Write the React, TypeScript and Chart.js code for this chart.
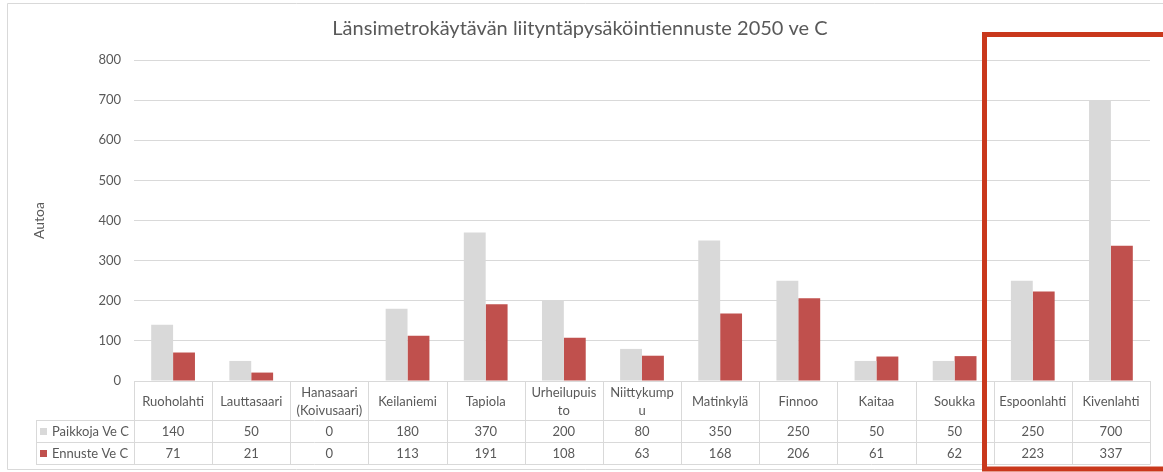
import React, { useEffect, useRef } from "react";
import { Chart, registerables } from "chart.js";

Chart.register(...registerables);

const TITLE = "Länsimetrokäytävän liityntäpysäköintiennuste 2050 ve C";
const Y_LABEL = "Autoa";
const CATEGORIES: string[][] = [
  ["Ruoholahti"],
  ["Lauttasaari"],
  ["Hanasaari", "(Koivusaari)"],
  ["Keilaniemi"],
  ["Tapiola"],
  ["Urheilupuis", "to"],
  ["Niittykump", "u"],
  ["Matinkylä"],
  ["Finnoo"],
  ["Kaitaa"],
  ["Soukka"],
  ["Espoonlahti"],
  ["Kivenlahti"],
];
const SERIES_NAMES = ["Paikkoja Ve C", "Ennuste Ve C"];
const PAIKKOJA = [140, 50, 0, 180, 370, 200, 80, 350, 250, 50, 50, 250, 700];
const ENNUSTE = [71, 21, 0, 113, 191, 108, 63, 168, 206, 61, 62, 223, 337];
const Y_MIN = 0;
const Y_MAX = 800;
const Y_STEP = 100;

const GRAY = "#D9D9D9";
const RED = "#C0504D";
const TEXT = "#595959";
const FONT = "Lato, 'Open Sans', sans-serif";

const W = 1163;
const H = 472;

export default function App() {
  const ref = useRef<HTMLCanvasElement | null>(null);

  useEffect(() => {
    document.body.style.margin = "0";
    const canvas = ref.current;
    if (!canvas) return;

    const decor = {
      id: "decor",
      afterDraw(chart: any) {
        const ctx = chart.ctx as CanvasRenderingContext2D;
        const area = chart.chartArea;
        const xs = chart.scales.x;
        const n = CATEGORIES.length;
        const colW = (area.right - area.left) / n;
        const top = area.bottom;
        const headBottom = top + 39;
        const row1Bottom = headBottom + 22;
        const row2Bottom = row1Bottom + 22;
        const legendLeft = 36;

        ctx.save();
        // outer chart border
        ctx.strokeStyle = GRAY;
        ctx.lineWidth = 1;
        ctx.beginPath();
        ctx.moveTo(W + 5, 3.5);
        ctx.lineTo(7.5, 3.5);
        ctx.lineTo(7.5, 469.5);
        ctx.lineTo(W + 5, 469.5);
        ctx.stroke();

        // title
        ctx.fillStyle = TEXT;
        ctx.font = `20px ${FONT}`;
        ctx.textAlign = "center";
        ctx.textBaseline = "middle";
        ctx.fillText(TITLE, 580, 29);

        // y label
        ctx.save();
        ctx.translate(39, (area.top + area.bottom) / 2);
        ctx.rotate(-Math.PI / 2);
        ctx.font = `14px ${FONT}`;
        ctx.fillText(Y_LABEL, 0, 0);
        ctx.restore();

        // table lines
        ctx.strokeStyle = GRAY;
        ctx.lineWidth = 1;
        ctx.beginPath();
        const hl = (x1: number, x2: number, y: number) => {
          ctx.moveTo(x1, Math.round(y) + 0.5);
          ctx.lineTo(x2, Math.round(y) + 0.5);
        };
        const vl = (x: number, y1: number, y2: number) => {
          ctx.moveTo(Math.round(x) + 0.5, y1);
          ctx.lineTo(Math.round(x) + 0.5, y2);
        };
        hl(area.left, area.right, top);
        hl(legendLeft, area.right, headBottom);
        hl(legendLeft, area.right, row1Bottom);
        hl(legendLeft, area.right, row2Bottom);
        for (let i = 0; i <= n; i++) {
          vl(area.left + i * colW, top, row2Bottom + 0.5);
        }
        vl(legendLeft, headBottom, row2Bottom + 0.5);
        ctx.stroke();

        // header texts
        ctx.fillStyle = TEXT;
        ctx.font = `13px ${FONT}`;
        ctx.textAlign = "center";
        ctx.textBaseline = "middle";
        const headMid = (top + headBottom) / 2;
        CATEGORIES.forEach((lines, i) => {
          const cx = xs.getPixelForValue(i);
          if (lines.length === 1) {
            ctx.fillText(lines[0], cx, headMid + 1);
          } else {
            ctx.fillText(lines[0], cx, headMid - 8);
            ctx.fillText(lines[1], cx, headMid + 10);
          }
        });
        const r1 = (headBottom + row1Bottom) / 2 + 1;
        const r2 = (row1Bottom + row2Bottom) / 2 + 1;
        PAIKKOJA.forEach((v, i) => ctx.fillText(String(v), xs.getPixelForValue(i), r1));
        ENNUSTE.forEach((v, i) => ctx.fillText(String(v), xs.getPixelForValue(i), r2));

        // legend keys
        ctx.textAlign = "left";
        ctx.fillStyle = GRAY;
        ctx.fillRect(40, r1 - 4, 7, 7);
        ctx.fillStyle = RED;
        ctx.fillRect(40, r2 - 4, 7, 7);
        ctx.fillStyle = TEXT;
        ctx.fillText(SERIES_NAMES[0], 52, r1);
        ctx.fillText(SERIES_NAMES[1], 52, r2);

        // highlight box
        ctx.strokeStyle = "#C9381C";
        ctx.lineWidth = 5;
        ctx.beginPath();
        ctx.moveTo(W + 10, 34.5);
        ctx.lineTo(984.5, 34.5);
        ctx.lineTo(984.5, 469);
        ctx.lineTo(W + 10, 469);
        ctx.stroke();
        ctx.restore();
      },
    };

    const chart = new Chart(canvas, {
      type: "bar",
      data: {
        labels: CATEGORIES.map((c) => c.join(" ")),
        datasets: [
          {
            label: SERIES_NAMES[0],
            data: PAIKKOJA,
            backgroundColor: GRAY,
            categoryPercentage: 0.56,
            barPercentage: 1,
          },
          {
            label: SERIES_NAMES[1],
            data: ENNUSTE,
            backgroundColor: RED,
            categoryPercentage: 0.56,
            barPercentage: 1,
          },
        ],
      },
      options: {
        animation: false,
        responsive: false,
        devicePixelRatio: 1,
        layout: { padding: { left: 0, right: 13, top: 60, bottom: H - 381 } },
        plugins: {
          legend: { display: false },
          tooltip: { enabled: false },
          title: { display: false },
        },
        scales: {
          x: { display: false },
          y: {
            min: Y_MIN,
            max: Y_MAX,
            afterFit: (s: any) => {
              s.width = 134;
            },
            ticks: {
              stepSize: Y_STEP,
              color: TEXT,
              padding: 13,
              font: { family: FONT, size: 13 },
            },
            grid: { color: GRAY, drawTicks: false },
            border: { display: false },
          },
        },
      },
      plugins: [decor],
    });
    return () => chart.destroy();
  }, []);

  return (
    <div style={{ width: W, height: H }}>
      <canvas ref={ref} width={W} height={H} style={{ display: "block" }} />
    </div>
  );
}
